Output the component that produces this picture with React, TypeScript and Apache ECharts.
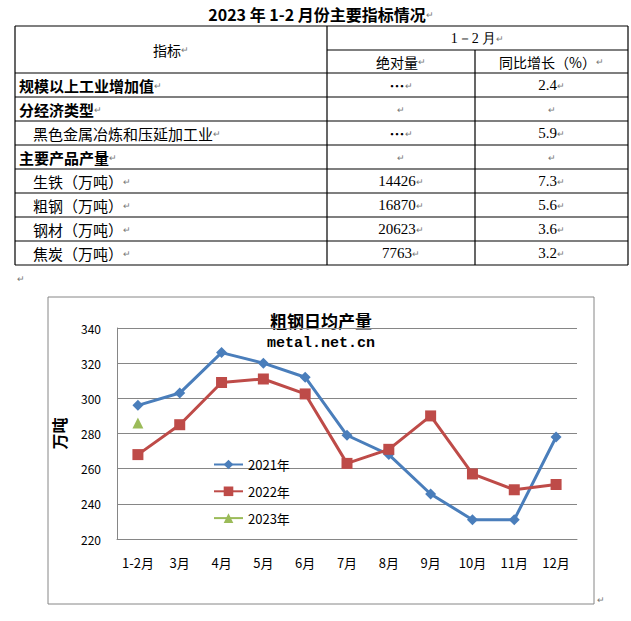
import React, { useEffect, useRef } from "react";
import * as echarts from "echarts";

// ---- table data ----
const pageTitle = "2023 年 1-2 月份主要指标情况";
const headIndicator = "指标";
const headPeriod = "1－2 月";
const headAbs = "绝对量";
const headYoy = "同比增长（%）";
const rowNames = [
  "规模以上工业增加值",
  "分经济类型",
  "黑色金属冶炼和压延加工业",
  "主要产品产量",
  "生铁（万吨）",
  "粗钢（万吨）",
  "钢材（万吨）",
  "焦炭（万吨）",
];
const rowIsGroup = [true, true, false, true, false, false, false, false];
const rowAbs = ["…", "", "…", "", "14426", "16870", "20623", "7763"];
const rowYoy = ["2.4", "", "5.9", "", "7.3", "5.6", "3.6", "3.2"];

// ---- chart data ----
const chartTitle = "粗钢日均产量";
const chartSource = "metal.net.cn";
const yName = "万吨";
const months = ["1-2月", "3月", "4月", "5月", "6月", "7月", "8月", "9月", "10月", "11月", "12月"];
const seriesNames = ["2021年", "2022年", "2023年"];
const y2021 = [296, 303, 326, 320, 312, 279, 268, 245.6, 231, 231, 278];
const y2022 = [268, 285, 309, 311, 302.5, 263, 271, 290, 257, 248, 251];
const y2023 = [286, null, null, null, null, null, null, null, null, null, null];

const CJK = '"Noto Sans CJK SC", "Noto Sans", sans-serif';
const SERIF = '"Liberation Serif", "DejaVu Serif", serif';
const MARK = "↵";

function txt(x: number, y: number, text: string, opts: any = {}) {
  const align = opts.align || "left";
  const size = opts.size || 15;
  const weight = opts.bold ? "bold" : "normal";
  const family = opts.family || CJK;
  const withMark = opts.mark !== false;
  const content = withMark ? `{a|${text}}{m|${MARK}}` : `{a|${text}}`;
  return {
    type: "text",
    x,
    y,
    silent: true,
    style: {
      text: content,
      align,
      verticalAlign: "middle",
      textAlign: align,
      textVerticalAlign: "middle",
      rich: {
        a: { fontSize: size, fontWeight: weight, fontFamily: family, fill: "#000", color: "#000" },
        m: { fontSize: 9, fontFamily: CJK, fill: "#777", color: "#777" },
      },
    },
  };
}

function hline(x1: number, x2: number, y: number) {
  return { type: "line", silent: true, shape: { x1, y1: y, x2, y2: y }, style: { stroke: "#000", lineWidth: 1.2 } };
}
function vline(x: number, y1: number, y2: number) {
  return { type: "line", silent: true, shape: { x1: x, y1, x2: x, y2 }, style: { stroke: "#000", lineWidth: 1.2 } };
}

export default function App() {
  const ref = useRef<HTMLDivElement>(null);
  useEffect(() => {
    if (!ref.current) return;
    const chart = echarts.init(ref.current, null, { renderer: "svg" });

    const L = 15, R = 628, C1 = 327, C2 = 475;
    const T = 26, H1 = 50, H2 = 73, RH = 24;
    const nRows = rowNames.length;
    const B = H2 + RH * nRows;

    const g: any[] = [];
    g.push(txt(321, 14, pageTitle, { size: 16, bold: true, align: "center" }));
    g.push(hline(L, R, T));
    g.push(hline(C1, R, H1));
    g.push(hline(L, R, H2));
    for (let i = 1; i <= nRows; i++) g.push(hline(L, R, H2 + RH * i));
    g.push(vline(L, T, B));
    g.push(vline(C1, T, B));
    g.push(vline(C2, H1, B));
    g.push(vline(R, T, B));

    g.push(txt((L + C1) / 2, (T + H2) / 2, headIndicator, { size: 14, align: "center" }));
    g.push(txt((C1 + R) / 2, (T + H1) / 2, headPeriod, { size: 14, align: "center", family: SERIF }));
    g.push(txt((C1 + C2) / 2, (H1 + H2) / 2, headAbs, { size: 14, align: "center" }));
    g.push(txt((C2 + R) / 2, (H1 + H2) / 2, headYoy, { size: 14, align: "center" }));

    rowNames.forEach((name, i) => {
      const cy = H2 + RH * i + RH / 2;
      g.push(txt(rowIsGroup[i] ? 19 : 33, cy, name, { size: 15, bold: rowIsGroup[i] }));
      g.push(txt((C1 + C2) / 2, cy, rowAbs[i], { size: 15, align: "center", family: rowAbs[i] === "…" ? CJK : SERIF, bold: rowAbs[i] === "…" }));
      g.push(txt((C2 + R) / 2, cy, rowYoy[i], { size: 15, align: "center", family: SERIF }));
    });

    // paragraph marks outside the table
    g.push({ type: "text", x: 17, y: 279, silent: true, style: { text: MARK, fontSize: 9, fill: "#777", verticalAlign: "middle", textVerticalAlign: "middle" } });
    g.push({ type: "text", x: 597, y: 600, silent: true, style: { text: MARK, fontSize: 9, fill: "#777", verticalAlign: "middle", textVerticalAlign: "middle" } });

    // chart frame
    g.push({ type: "rect", silent: true, z: -1, shape: { x: 48, y: 297, width: 546, height: 307 }, style: { fill: "#fff", stroke: "#868686", lineWidth: 1 } });
    g.push({ type: "text", x: 321, y: 320.5, silent: true, style: { text: chartTitle, fontSize: 17, fontWeight: "bold", fontFamily: CJK, fill: "#000", align: "center", verticalAlign: "middle", textAlign: "center", textVerticalAlign: "middle" } });
    g.push({ type: "text", x: 321, y: 343.5, silent: true, style: { text: chartSource, fontSize: 15, fontWeight: "bold", fontFamily: '"Liberation Mono", "DejaVu Sans Mono", monospace', fill: "#000", align: "center", verticalAlign: "middle", textAlign: "center", textVerticalAlign: "middle" } });

    chart.setOption({
      animation: false,
      textStyle: { fontFamily: CJK },
      graphic: { elements: g },
      grid: { left: 117, top: 328, width: 460, height: 211, containLabel: false },
      legend: {
        orient: "vertical",
        left: 213,
        top: 458,
        padding: 0,
        itemWidth: 29,
        itemHeight: 12,
        itemGap: 13.8,
        textStyle: { fontSize: 13, color: "#000", fontFamily: CJK },
        data: seriesNames,
      },
      xAxis: {
        type: "category",
        data: months,
        boundaryGap: true,
        axisLine: { show: true, lineStyle: { color: "#868686", width: 1 } },
        axisTick: { show: false },
        axisLabel: { color: "#000", fontSize: 13, margin: 17, interval: 0 },
        splitLine: { show: false },
      },
      yAxis: {
        type: "value",
        min: 220,
        max: 340,
        interval: 20,
        name: yName,
        nameLocation: "middle",
        nameGap: 50,
        nameRotate: 90,
        nameTextStyle: { fontSize: 16, fontWeight: "bold", color: "#000", fontFamily: CJK },
        axisLine: { show: true, lineStyle: { color: "#868686", width: 1 } },
        axisTick: { show: false },
        axisLabel: { color: "#000", fontSize: 12, margin: 16 },
        splitLine: { show: true, lineStyle: { color: "#868686", width: 1 } },
      },
      series: [
        {
          name: seriesNames[0],
          type: "line",
          data: y2021,
          symbol: "diamond",
          symbolSize: 11,
          itemStyle: { color: "#4A7EBB" },
          lineStyle: { color: "#4A7EBB", width: 3 },
        },
        {
          name: seriesNames[1],
          type: "line",
          data: y2022,
          symbol: "rect",
          symbolSize: 11,
          itemStyle: { color: "#BE4B48" },
          lineStyle: { color: "#BE4B48", width: 3 },
        },
        {
          name: seriesNames[2],
          type: "line",
          data: y2023,
          symbol: "triangle",
          symbolSize: 11,
          itemStyle: { color: "#9BBB59" },
          lineStyle: { color: "#9BBB59", width: 3 },
        },
      ],
    });
    return () => chart.dispose();
  }, []);
  return (
    <div
      ref={ref}
      style={{ position: "absolute", left: 0, top: 0, width: 631, height: 621, background: "#fff" }}
    />
  );
}
